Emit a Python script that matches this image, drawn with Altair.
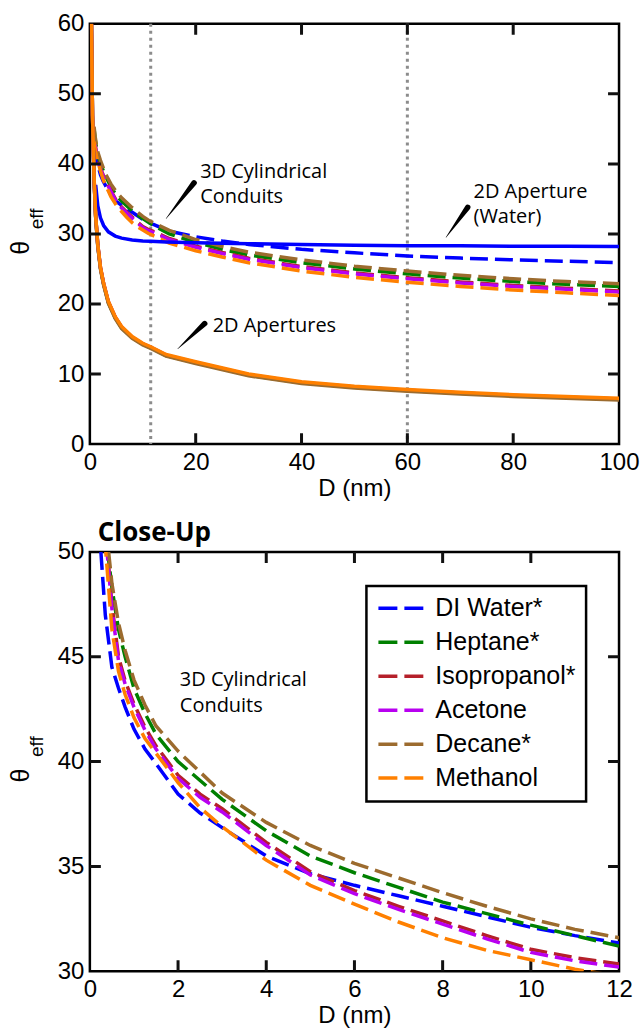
import altair as alt
import pandas as pd

FLUIDS = ["DI Water*", "Heptane*", "Isopropanol*", "Acetone", "Decane*", "Methanol"]
COLORS = ["#0000ff", "#008000", "#b5202a", "#b800f0", "#9c6b2e", "#ff8000"]

# 3D cylindrical conduits (dashed)
D_DASH = [0.25, 0.35, 0.5, 0.65, 0.8, 1, 1.25, 1.5, 2, 2.5, 3, 4, 5, 6, 7, 8, 9, 10, 11, 12,
          15, 20, 25, 30, 40, 50, 60, 70, 80, 90, 100]
WATER_3D = [50, 47.0, 44.5, 43.5, 42.6, 41.55, 40.6, 39.9, 38.45, 37.55, 36.85, 35.5, 34.65, 34.1,
            33.6, 33.1, 32.6, 32.1, 31.7, 31.35, 30.4, 29.6, 29.0, 28.5, 27.8, 27.3, 26.85, 26.55,
            26.3, 26.1, 25.9]
HEPTANE_3D = [55, 51, 48.3, 46.3, 45.0, 43.5, 42.3, 41.3, 40.0, 39.1, 38.2, 36.7, 35.5, 34.7,
              34.0, 33.3, 32.75, 32.2, 31.7, 31.2, 30.0, 28.8, 27.8, 27.0, 25.9, 25.0, 24.3, 23.7,
              23.2, 22.8, 22.5]
ISOPROPANOL_3D = [54.2, 51.2, 47.5, 45.0, 43.85, 42.75, 41.65, 40.75, 39.35, 38.45, 37.75, 36.15,
                  34.75, 33.85, 33.1, 32.4, 31.7, 31.05, 30.65, 30.35, 29.35, 28.25, 27.35, 26.55,
                  25.35, 24.45, 23.75, 23.15, 22.65, 22.25, 21.85]
ACETONE_3D = [54, 51, 47.3, 44.8, 43.7, 42.6, 41.5, 40.6, 39.2, 38.3, 37.6, 36.0, 34.6, 33.7,
              32.95, 32.25, 31.55, 30.9, 30.5, 30.2, 29.2, 28.1, 27.2, 26.4, 25.2, 24.3, 23.6,
              23.0, 22.5, 22.1, 21.7]
DECANE_3D = [56, 51.5, 48.5, 46.6, 45.3, 43.9, 42.7, 41.7, 40.5, 39.5, 38.5, 37.1, 36.0, 35.15,
             34.45, 33.75, 33.1, 32.5, 32.0, 31.6, 30.5, 29.2, 28.2, 27.4, 26.3, 25.4, 24.7, 24.1,
             23.6, 23.2, 22.9]
METHANOL_3D = [53, 50.3, 46.3, 44.3, 43.2, 42.1, 41.1, 40.4, 39.0, 37.8, 36.9, 35.3, 34.1, 33.2,
               32.35, 31.6, 31.0, 30.55, 30.1, 29.75, 28.7, 27.6, 26.7, 25.9, 24.7, 23.8, 23.1,
               22.5, 22.0, 21.6, 21.2]
DASHED = [WATER_3D, HEPTANE_3D, ISOPROPANOL_3D, ACETONE_3D, DECANE_3D, METHANOL_3D]

# 2D apertures (solid)
D_2D = [0.3, 0.5, 0.8, 1.1, 1.5, 2, 2.6, 3.5, 4.8, 6, 8, 10, 11.5, 14.4, 20, 30, 40, 50, 60, 70,
        80, 90, 100]
HEPTANE_2D = [60, 46.8, 37.8, 32.4, 28.3, 25.1, 22.8, 20.2, 18.0, 16.6, 15.2, 14.25, 13.75, 12.65,
              11.6, 9.85, 8.75, 8.1, 7.65, 7.25, 6.9, 6.65, 6.4]
ISOPROPANOL_2D = [60, 46.9, 37.9, 32.5, 28.4, 25.2, 22.9, 20.3, 18.1, 16.7, 15.25, 14.3, 13.8,
                  12.7, 11.65, 9.9, 8.8, 8.15, 7.7, 7.3, 6.95, 6.7, 6.45]
ACETONE_2D = [60, 46.9, 37.9, 32.5, 28.4, 25.2, 22.9, 20.3, 18.1, 16.7, 15.25, 14.3, 13.8, 12.7,
              11.65, 9.9, 8.8, 8.15, 7.7, 7.3, 6.95, 6.7, 6.45]
DECANE_2D = [60, 46.7, 37.7, 32.3, 28.2, 25.0, 22.7, 20.1, 17.9, 16.5, 15.1, 14.15, 13.65, 12.55,
             11.5, 9.75, 8.65, 8.0, 7.55, 7.15, 6.8, 6.55, 6.3]
METHANOL_2D = [60, 47, 38, 32.6, 28.5, 25.3, 23.0, 20.4, 18.2, 16.8, 15.35, 14.4, 13.9, 12.8,
               11.75, 10.0, 8.9, 8.25, 7.8, 7.4, 7.05, 6.8, 6.55]
D_2D_WATER = [1.1, 1.5, 2, 2.6, 3.5, 4.8, 6, 8, 10, 11.5, 14.4, 20, 30, 40, 50, 60, 70, 80, 90, 100]
WATER_2D = [37, 34, 32.3, 31.2, 30.3, 29.7, 29.4, 29.15, 29.0, 28.95, 28.85, 28.75, 28.6, 28.5,
            28.4, 28.3, 28.3, 28.25, 28.25, 28.2]

# axes
X_TICKS_TOP = [0, 20, 40, 60, 80, 100]
Y_TICKS_TOP = [0, 10, 20, 30, 40, 50, 60]
X_TICKS_BOT = [0, 2, 4, 6, 8, 10, 12]
Y_TICKS_BOT = [30, 35, 40, 45, 50]
VLINES = [11.5, 60]

# annotations
NOTE_TEXT = ["3D Cylindrical", "Conduits", "2D Aperture", "(Water)", "2D Apertures"]
NOTE_D = [20.85, 20.85, 72.5, 72.5, 23.2]
NOTE_Y = [38.05, 34.35, 35.2, 31.6, 16.06]
PTR_ID = [1, 1, 2, 2, 3, 3]
PTR_END = [0, 1, 0, 1, 0, 1]
PTR_D = [14.4, 19.7, 67.3, 71.4, 16.6, 21.7]
PTR_Y = [32.2, 37.3, 29.5, 33.8, 13.6, 17.2]
CLOSE_TEXT = ["3D Cylindrical", "Conduits"]
CLOSE_D = [2.04, 2.04]
CLOSE_Y = [43.62, 42.35]

W = 530
H_TOP = 421
H_BOT = 420

# ---------- data frames ----------
dash_rows = []
for f, vals in zip(FLUIDS, DASHED):
    for d, v in zip(D_DASH, vals):
        dash_rows.append({"fluid": f, "D": d, "theta": v})
dash_df = pd.DataFrame(dash_rows)

solid_rows = []
for d, v in zip(D_2D_WATER, WATER_2D):
    solid_rows.append({"fluid": FLUIDS[0], "D": d, "theta": v})
for f, vals in zip(FLUIDS[1:], [HEPTANE_2D, ISOPROPANOL_2D, ACETONE_2D, DECANE_2D, METHANOL_2D]):
    for d, v in zip(D_2D, vals):
        solid_rows.append({"fluid": f, "D": d, "theta": v})
solid_df = pd.DataFrame(solid_rows)

notes_df = pd.DataFrame({"text": NOTE_TEXT, "D": NOTE_D, "theta": NOTE_Y})
ptr_df = pd.DataFrame({"id": PTR_ID, "end": PTR_END, "D": PTR_D, "theta": PTR_Y})
close_df = pd.DataFrame({"text": CLOSE_TEXT, "D": CLOSE_D, "theta": CLOSE_Y})

LABEL_FONT = "Liberation Sans"
NOTE_FONT = "Open Sans"
TICK_LEN = 11


def xe(field, domain, axis=None):
    return alt.X(f"{field}:Q", scale=alt.Scale(domain=domain, nice=False, zero=False), axis=axis)


def ye(field, domain, axis=None):
    return alt.Y(f"{field}:Q", scale=alt.Scale(domain=domain, nice=False, zero=False), axis=axis)


def inner_ticks(xvals, yvals, xdom, ydom, h, w):
    # full-span rules whose dash pattern leaves only a short stub at each edge (inward ticks)
    tx = pd.DataFrame({"D": [float(v) for v in xvals[1:-1]]})
    ty = pd.DataFrame({"theta": [float(v) for v in yvals[1:-1]]})
    vt = alt.Chart(tx).mark_rule(
        color="#111111", strokeWidth=3, opacity=1,
        strokeDash=[TICK_LEN, h - 2 * TICK_LEN, TICK_LEN, 200]).encode(x=xe("D", xdom))
    ht = alt.Chart(ty).mark_rule(
        color="#111111", strokeWidth=3, opacity=1,
        strokeDash=[TICK_LEN, w - 2 * TICK_LEN, TICK_LEN, 200]).encode(y=ye("theta", ydom))
    return [vt, ht]


def theta_label(h):
    th = alt.Chart(pd.DataFrame({"t": ["θ"]})).mark_text(
        angle=270, font=LABEL_FONT, fontSize=25, align="center", baseline="middle",
        color="black").encode(x=alt.value(-69), y=alt.value(h / 2 + 14), text="t:N")
    eff = alt.Chart(pd.DataFrame({"t": ["eff"]})).mark_text(
        angle=270, font=LABEL_FONT, fontSize=19, align="center", baseline="middle",
        color="black").encode(x=alt.value(-53), y=alt.value(h / 2 - 15), text="t:N")
    return [th, eff]


XD_TOP = [0, 100]
YD_TOP = [0, 60]
XD_BOT = [0, 12]
YD_BOT = [30, 50]

# ---------- top panel ----------
ax_x_top = alt.Axis(values=X_TICKS_TOP, title="D (nm)", orient="bottom")
ax_y_top = alt.Axis(values=Y_TICKS_TOP, title=None, orient="left")

color_top = alt.Color("fluid:N", scale=alt.Scale(domain=FLUIDS, range=COLORS), legend=None)

vlines = alt.Chart(pd.DataFrame({"D": VLINES})).mark_rule(
    color="#8c8c8c", strokeWidth=3, strokeDash=[3, 4]).encode(x=xe("D", XD_TOP))

dash_top = alt.Chart(dash_df[dash_df["D"] >= 0.8]).mark_line(
    strokeDash=[18, 7], strokeWidth=3.5, clip=True).encode(
    x=xe("D", XD_TOP, ax_x_top), y=ye("theta", YD_TOP, ax_y_top), color=color_top)

solid_top = alt.Chart(solid_df).mark_line(strokeWidth=3.5, clip=True).encode(
    x=xe("D", XD_TOP), y=ye("theta", YD_TOP), color=color_top)

notes_top = alt.Chart(notes_df).mark_text(
    align="left", baseline="alphabetic", font=NOTE_FONT, fontSize=20, color="black").encode(
    x=xe("D", XD_TOP), y=ye("theta", YD_TOP), text="text:N")

ptr_top = alt.Chart(ptr_df).mark_trail(color="black").encode(
    x=xe("D", XD_TOP), y=ye("theta", YD_TOP),
    detail="id:N", order="end:Q",
    size=alt.Size("end:Q", scale=alt.Scale(domain=[0, 1], range=[0.4, 5.5]), legend=None))

top = alt.layer(
    vlines, dash_top, solid_top, notes_top, ptr_top,
    *inner_ticks(X_TICKS_TOP, Y_TICKS_TOP, XD_TOP, YD_TOP, H_TOP, W),
    *theta_label(H_TOP),
).resolve_axis(x="independent", y="independent").properties(width=W, height=H_TOP)

# ---------- bottom panel ----------
legend = alt.Legend(
    title=None, orient="none", legendX=277, legendY=34, symbolType="stroke", symbolSize=2025,
    symbolStrokeWidth=3.5, symbolDash=[19, 7], labelFont=LABEL_FONT, labelFontSize=25,
    labelColor="black", labelOffset=10, rowPadding=8, padding=10, strokeColor="black",
    fillColor="white", clipHeight=25)
color_bot = alt.Color("fluid:N", scale=alt.Scale(domain=FLUIDS, range=COLORS), legend=legend)

ax_x_bot = alt.Axis(values=X_TICKS_BOT, title="D (nm)", orient="bottom")
ax_y_bot = alt.Axis(values=Y_TICKS_BOT, title=None, orient="left")

dash_bot = alt.Chart(dash_df[dash_df["D"] <= 12]).mark_line(
    strokeDash=[18, 7], strokeWidth=3.5, clip=True).encode(
    x=xe("D", XD_BOT, ax_x_bot), y=ye("theta", YD_BOT, ax_y_bot), color=color_bot)

notes_bot = alt.Chart(close_df).mark_text(
    align="left", baseline="alphabetic", font=NOTE_FONT, fontSize=20, color="black").encode(
    x=xe("D", XD_BOT), y=ye("theta", YD_BOT), text="text:N")

bottom = alt.layer(
    *inner_ticks(X_TICKS_BOT, Y_TICKS_BOT, XD_BOT, YD_BOT, H_BOT, W),
    dash_bot, notes_bot, *theta_label(H_BOT),
).resolve_axis(x="independent", y="independent").properties(
    width=W, height=H_BOT,
    title=alt.TitleParams(text="Close-Up", anchor="start", frame="group", font=NOTE_FONT,
                          fontSize=26, fontWeight="bold", color="black", offset=2, dx=8, dy=8))

chart = alt.vconcat(top, bottom, spacing=16).resolve_scale(color="independent").properties(
    padding={"left": 7, "top": 9, "right": 0, "bottom": 0}
).configure_view(stroke="black", strokeWidth=2.5).configure_axis(
    grid=False, domain=False, ticks=False, tickSize=0, labelFont=LABEL_FONT, labelFontSize=24,
    labelColor="black", labelPadding=6, labelOverlap=False, labelFlush=False,
    titleFont=LABEL_FONT, titleFontSize=24, titleFontWeight="normal", titleColor="black",
    titlePadding=2).configure_legend(strokeWidth=2.5)

chart.save("out.html", embed_options={"renderer": "svg", "actions": False})
